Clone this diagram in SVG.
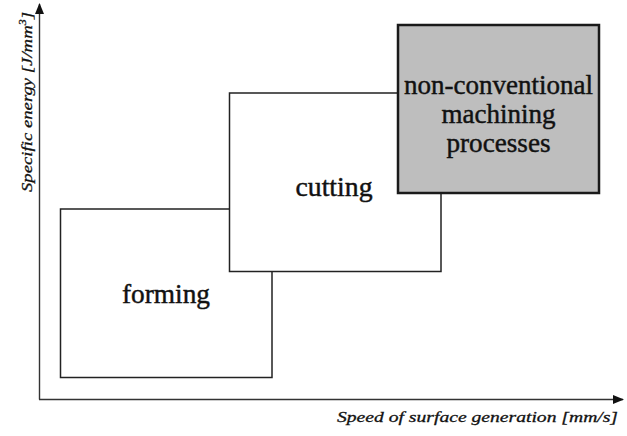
<svg xmlns="http://www.w3.org/2000/svg" width="627" height="436" viewBox="0 0 627 436">
  <style>
    .box { fill: #ffffff; stroke: #222222; stroke-width: 1.5; }
    .hot { fill: #bebebe; stroke: #1a1a1a; stroke-width: 2.5; }
    .lbl { font-family: "Liberation Serif", Tinos, "Times New Roman", Times, "DejaVu Serif", serif; font-size: 27px; fill: #111111; stroke: #111111; stroke-width: 0.45; text-anchor: middle; }
    .axis { stroke: #333333; stroke-width: 1.4; fill: none; }
    .axlbl { font-family: "Liberation Serif", Tinos, "Times New Roman", Times, "DejaVu Serif", serif; font-style: italic; font-size: 15.5px; fill: #111111; stroke: #111111; stroke-width: 0.3; }
  </style>
  <defs>
    <marker id="arrow" viewBox="0 0 11 9" refX="10" refY="4.5" markerWidth="11" markerHeight="9" markerUnits="userSpaceOnUse" orient="auto">
      <path d="M0,0 L11,4.5 L0,9 Z" fill="#111111"/>
    </marker>
  </defs>

  <!-- axes -->
  <g id="connectors">
    <line class="axis" x1="39.5" y1="399.5" x2="39.5" y2="4" marker-end="url(#arrow)"/>
    <line class="axis" x1="39" y1="399.5" x2="623" y2="399.5" marker-end="url(#arrow)"/>
  </g>

  <g id="axis-y-label">
    <text class="axlbl" transform="translate(31.5,192) rotate(-90)" textLength="180" lengthAdjust="spacingAndGlyphs">Specific energy [J/mm<tspan font-size="10" dy="-6">3</tspan><tspan dy="6">]</tspan></text>
  </g>
  <g id="axis-x-label">
    <text class="axlbl" x="337" y="422" textLength="281" lengthAdjust="spacingAndGlyphs">Speed of surface generation [mm/s]</text>
  </g>

  <g id="forming">
    <rect class="box" x="60.5" y="209" width="211.5" height="168.5"/>
    <text class="lbl" x="166" y="303" textLength="88" lengthAdjust="spacingAndGlyphs">forming</text>
  </g>

  <g id="cutting">
    <rect class="box" x="229.5" y="93" width="211.5" height="178.5"/>
    <text class="lbl" x="334" y="196" textLength="77" lengthAdjust="spacingAndGlyphs">cutting</text>
  </g>

  <g id="non-conventional">
    <rect class="hot" x="398" y="25" width="201" height="168"/>
    <text class="lbl" x="498.5" y="94" textLength="189" lengthAdjust="spacingAndGlyphs">non-conventional</text>
    <text class="lbl" x="498.5" y="123" textLength="114" lengthAdjust="spacingAndGlyphs">machining</text>
    <text class="lbl" x="498.5" y="152" textLength="104" lengthAdjust="spacingAndGlyphs">processes</text>
  </g>
</svg>
